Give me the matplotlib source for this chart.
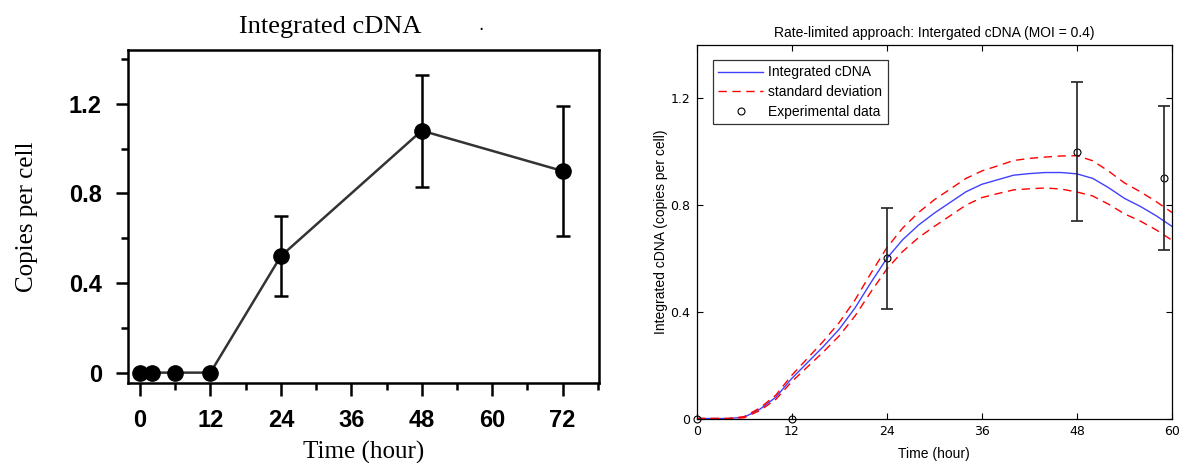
import numpy as np
import matplotlib.pyplot as plt
from matplotlib.ticker import MultipleLocator

# left panel: measured integrated cDNA
t_meas = [0, 2, 6, 12, 24, 48, 72]
copies = [0, 0, 0, 0, 0.52, 1.08, 0.90]
copies_err = [0, 0, 0, 0, 0.18, 0.25, 0.29]

# right panel: model curve (read every 2 h) and experimental points
t_model = [0, 2, 4, 6, 8, 10, 12, 14, 16, 18, 20, 22, 24, 26, 28, 30,
           32, 34, 36, 38, 40, 42, 44, 46, 48, 50, 52, 54, 56, 58, 60]
cdna_mean = [0, 0, 0, 0.005, 0.035, 0.08, 0.15, 0.21, 0.27, 0.335, 0.415,
             0.51, 0.60, 0.67, 0.725, 0.77, 0.81, 0.85, 0.878, 0.895, 0.912,
             0.918, 0.922, 0.922, 0.917, 0.90, 0.865, 0.825, 0.795, 0.76, 0.72]
cdna_std = [0, 0, 0, 0.002, 0.005, 0.008, 0.012, 0.016, 0.02, 0.025, 0.03,
            0.035, 0.04, 0.044, 0.047, 0.05, 0.05, 0.05, 0.05, 0.052, 0.055,
            0.057, 0.058, 0.062, 0.068, 0.066, 0.062, 0.058, 0.055, 0.053, 0.052]
exp_t = [0, 12, 24, 48, 59]
exp_v = [0, 0, 0.6, 1.0, 0.9]
exp_err = [0, 0, 0.19, 0.26, 0.27]

fig = plt.figure(figsize=(11.81, 4.63), dpi=100)

# ---- left panel ----
ax1 = fig.add_axes([0.1086, 0.1734, 0.3986, 0.7186])
ax1.errorbar(t_meas, copies, yerr=copies_err, fmt='o-', color='#333333',
             ecolor='black', mfc='black', mec='black', ms=11, lw=1.8,
             elinewidth=1.8, capsize=5, capthick=1.8, clip_on=False)
ax1.set_xlim(-2.0, 78.2)
ax1.set_ylim(-0.045, 1.44)
ax1.xaxis.set_major_locator(MultipleLocator(12))
ax1.xaxis.set_minor_locator(MultipleLocator(6))
ax1.yaxis.set_minor_locator(MultipleLocator(0.2))
ax1.set_yticks([0, 0.4, 0.8, 1.2])
ax1.set_yticklabels(['0', '0.4', '0.8', '1.2'])
ax1.tick_params(which='major', direction='out', length=9, width=1.8, pad=10,
                labelsize=17)
ax1.tick_params(which='minor', direction='out', length=5, width=1.8)
for lab in ax1.get_xticklabels() + ax1.get_yticklabels():
    lab.set_family('Liberation Sans')
    lab.set_fontweight('bold')
for s in ax1.spines.values():
    s.set_linewidth(1.8)
ax1.set_title('Integrated cDNA', family='Liberation Serif', fontsize=19,
              pad=12, x=0.43)
ax1.set_xlabel('Time (hour)', family='Liberation Serif', fontsize=18,
               labelpad=6)
ax1.set_ylabel('Copies per cell', family='Liberation Serif', fontsize=18,
               labelpad=22)
fig.text(0.407, 0.935, '.', fontsize=12, ha='center')

# ---- right panel ----
mean = np.array(cdna_mean)
std = np.array(cdna_std)
ax2 = fig.add_axes([0.5899, 0.0961, 0.4025, 0.8067])
ax2.plot(t_model, mean, color='#4040ff', lw=1.0, label='Integrated cDNA')
ax2.plot(t_model, mean + std, color='red', lw=1.0, ls=(0, (6, 4)),
         label='standard deviation')
ax2.plot(t_model, mean - std, color='red', lw=1.0, ls=(0, (6, 4)))
ax2.plot(exp_t, exp_v, 'o', mfc='none', mec='black', ms=5, mew=0.8,
         clip_on=False, label='Experimental data')
has_err = [i for i, e in enumerate(exp_err) if e > 0]
ax2.errorbar([exp_t[i] for i in has_err], [exp_v[i] for i in has_err],
             yerr=[exp_err[i] for i in has_err], fmt='none', ecolor='#222222',
             elinewidth=1.2, capsize=4.5, capthick=1.2)
ax2.set_xlim(0, 60)
ax2.set_ylim(0, 1.4)
ax2.set_xticks([0, 12, 24, 36, 48, 60])
ax2.set_yticks([0, 0.4, 0.8, 1.2])
ax2.set_yticklabels(['0', '0.4', '0.8', '1.2'])
ax2.tick_params(direction='in', length=4, width=0.8, top=True, right=True,
                labelsize=9, pad=4.5)
for s in ax2.spines.values():
    s.set_linewidth(0.9)
ax2.set_title('Rate-limited approach: Intergated cDNA (MOI = 0.4)',
              fontsize=10, pad=6, family='Liberation Sans')
ax2.set_xlabel('Time (hour)', fontsize=10, labelpad=7, family='Liberation Sans')
ax2.set_ylabel('Integrated cDNA (copies per cell)', fontsize=10, labelpad=2,
               family='Liberation Sans')
leg = ax2.legend(loc='upper left', bbox_to_anchor=(0.034, 0.96),
                 borderaxespad=0, fancybox=False, edgecolor='black',
                 handlelength=3.2, handletextpad=0.4,
                 prop={'family': 'Liberation Sans', 'size': 10},
                 labelspacing=0.4, borderpad=0.4)
leg.get_frame().set_linewidth(0.9)

fig.savefig('out.png', dpi=100)
